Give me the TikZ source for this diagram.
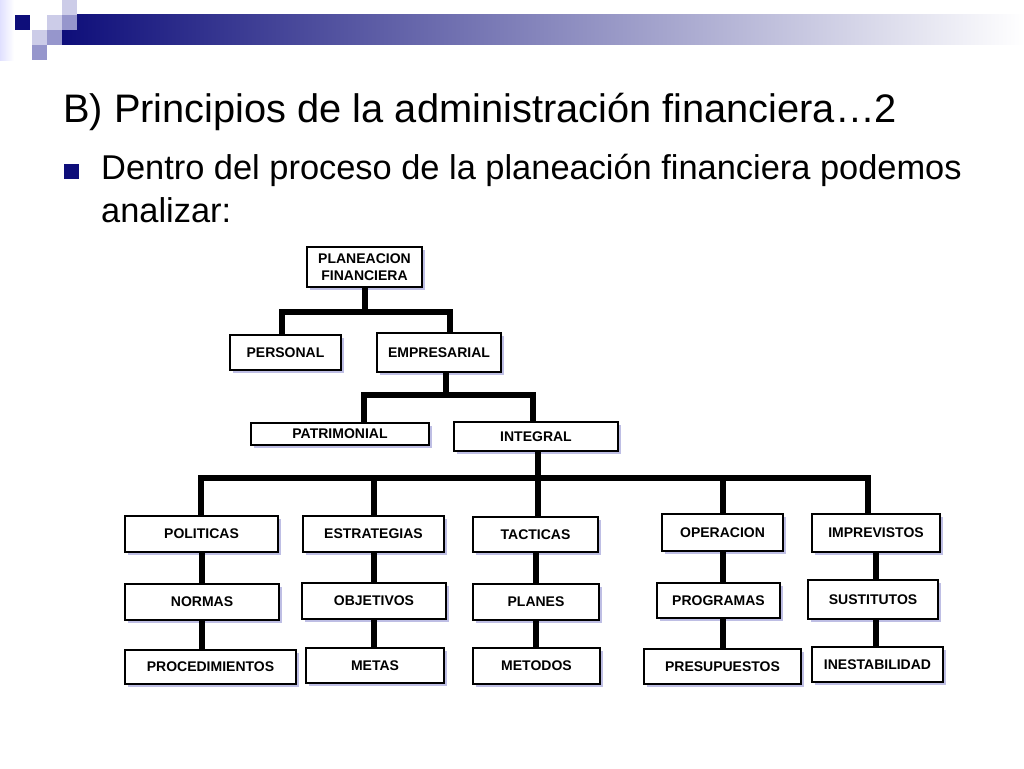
\documentclass[tikz,border=0pt]{standalone}
\usepackage{fontspec}
\setmainfont{Liberation Sans}
\usetikzlibrary{shadows}
\definecolor{navy}{RGB}{14,14,122}
\definecolor{barmid}{RGB}{150,150,178}
\definecolor{lavender}{RGB}{204,204,232}
\definecolor{lavmid}{RGB}{150,150,204}
\definecolor{shadowblue}{RGB}{110,110,195}

\begin{document}
\begin{tikzpicture}[x=1pt,y=-1pt,
    block/.style ={draw, fill=white, line width=1.3pt, inner sep=0pt, align=center,
      font=\fontsize{14}{17.5}\selectfont\bfseries,
      drop shadow={shadow xshift=3pt, shadow yshift=-3pt, fill=shadowblue, opacity=.45}},
    connector/.style ={line width=6pt, line join=miter}]
   \useasboundingbox (0,0) rectangle (1024,768);
   % header bar and squares
   \shade[left color=blue!12, right color=white] (0,0) rectangle (14,60);
   \shade[left color=navy, middle color=barmid, right color=white] (62,15) rectangle (1024,45);
   \fill[navy] (15,15) rectangle (30,30);
   \fill[lavender] (62,0) rectangle (77,15);
   \fill[lavender] (47,15) rectangle (62,30);
   \fill[lavender] (32,30) rectangle (47,45);
   \fill[lavmid] (62,15) rectangle (77,30);
   \fill[lavmid] (47,30) rectangle (62,45);
   \fill[lavmid] (32,45) rectangle (47,60);
   % texts
   \node[anchor=base west, inner sep=0pt, font=\fontsize{39.8}{46}\selectfont] (titulo) at (63,122) {B) Principios de la administración financiera…2};
   \fill[navy] (64,164) rectangle (78.5,179);
   \node[anchor=base west, inner sep=0pt, font=\fontsize{34.4}{44}\selectfont] (linea1) at (101,179.5) {Dentro del proceso de la planeación financiera podemos};
   \node[anchor=base west, inner sep=0pt, font=\fontsize{34.4}{44}\selectfont] (linea2) at (101,222) {analizar:};
   % chart
   \node[block, minimum width=115pt, minimum height=40pt] (planeacion) at (364.5,267) {PLANEACION\\FINANCIERA};
   \node[block, minimum width=111pt, minimum height=35pt] (personal) at (285.5,352.5) {PERSONAL};
   \node[block, minimum width=124pt, minimum height=39pt] (empresarial) at (439,352.5) {EMPRESARIAL};
   \node[block, minimum width=178pt, minimum height=22pt] (patrimonial) at (340,434) {PATRIMONIAL};
   \node[block, minimum width=164pt, minimum height=29pt] (integral) at (536,436.5) {INTEGRAL};
   \node[block, minimum width=153pt, minimum height=36pt] (politicas) at (201.5,534) {POLITICAS};
   \node[block, minimum width=141pt, minimum height=36pt] (estrategias) at (373.5,534) {ESTRATEGIAS};
   \node[block, minimum width=125pt, minimum height=35pt] (tacticas) at (535.5,534.5) {TACTICAS};
   \node[block, minimum width=121pt, minimum height=37pt] (operacion) at (722.5,532.5) {OPERACION};
   \node[block, minimum width=128pt, minimum height=38pt] (imprevistos) at (876,533) {IMPREVISTOS};
   \node[block, minimum width=154pt, minimum height=36pt] (normas) at (202,602) {NORMAS};
   \node[block, minimum width=144pt, minimum height=36pt] (objetivos) at (374,601) {OBJETIVOS};
   \node[block, minimum width=126pt, minimum height=36pt] (planes) at (536,602) {PLANES};
   \node[block, minimum width=123pt, minimum height=35pt] (programas) at (718.5,600.5) {PROGRAMAS};
   \node[block, minimum width=130pt, minimum height=39pt] (sustitutos) at (873,599.5) {SUSTITUTOS};
   \node[block, minimum width=171pt, minimum height=34pt] (procedimientos) at (210.5,667) {PROCEDIMIENTOS};
   \node[block, minimum width=138pt, minimum height=35pt] (metas) at (375,665.5) {METAS};
   \node[block, minimum width=127pt, minimum height=36pt] (metodos) at (536.5,666) {METODOS};
   \node[block, minimum width=157pt, minimum height=35pt] (presupuestos) at (722.5,666.5) {PRESUPUESTOS};
   \node[block, minimum width=131pt, minimum height=35pt] (inestabilidad) at (877.5,664.5) {INESTABILIDAD};
   % connectors
   \coordinate (b1l) at (282,312);
   \coordinate (b1r) at (450,312);
   \draw[connector] (planeacion.south) -- (planeacion.south |- b1l);
   \draw[connector] (personal.north -| b1l) |- (b1r) -- (empresarial.north -| b1r);
   \coordinate (b2l) at (364,395);
   \coordinate (b2m) at (446,395);
   \coordinate (b2r) at (533,395);
   \draw[connector] (b2m |- empresarial.south) -- (b2m);
   \draw[connector] (patrimonial.north -| b2l) |- (b2r) -- (integral.north -| b2r);
   \coordinate (b3l) at (201,478);
   \coordinate (b3m) at (538,478);
   \coordinate (b3r) at (868,478);
   \draw[connector] (b3m |- integral.south) -- (b3m |- tacticas.north);
   \draw[connector] (politicas.north -| b3l) |- (b3r) -- (imprevistos.north -| b3r);
   \draw[connector] (estrategias.north) -- (estrategias.north |- b3l);
   \draw[connector] (operacion.north) -- (operacion.north |- b3l);
   \draw[connector] (politicas.south) -- (politicas.south |- normas.north);
   \draw[connector] (normas.south) -- (normas.south |- procedimientos.north);
   \draw[connector] (estrategias.south) -- (estrategias.south |- objetivos.north);
   \draw[connector] (objetivos.south) -- (objetivos.south |- metas.north);
   \draw[connector] (tacticas.south) -- (tacticas.south |- planes.north);
   \draw[connector] (planes.south) -- (planes.south |- metodos.north);
   \draw[connector] (operacion.south) -- (operacion.south |- programas.north);
   \draw[connector] (operacion.south |- programas.south) -- (operacion.south |- presupuestos.north);
   \draw[connector] (imprevistos.south) -- (imprevistos.south |- sustitutos.north);
   \draw[connector] (imprevistos.south |- sustitutos.south) -- (imprevistos.south |- inestabilidad.north);
 \end{tikzpicture}
\end{document}
